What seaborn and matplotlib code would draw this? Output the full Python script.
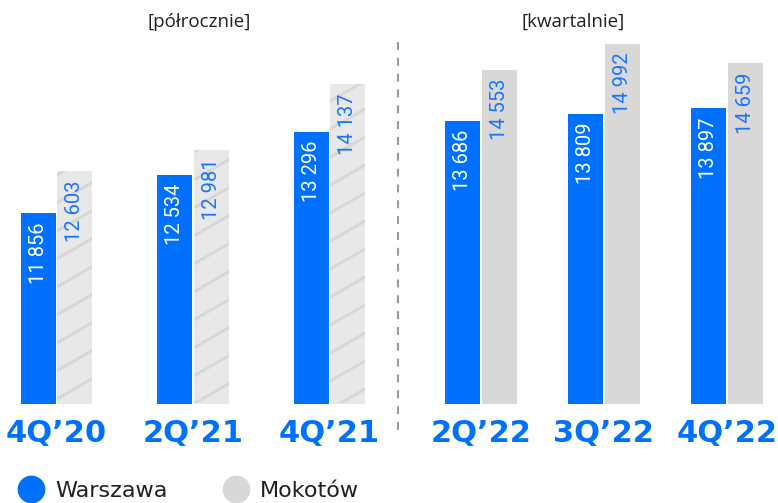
import matplotlib
matplotlib.use("Agg")
import matplotlib.pyplot as plt
from matplotlib.lines import Line2D
from matplotlib.patches import Rectangle
import numpy as np
import pandas as pd
import seaborn as sns

# Average asking prices (PLN / m²)
quarters_half = ["4Q’20", "2Q’21", "4Q’21"]
quarters_qtr = ["2Q’22", "3Q’22", "4Q’22"]
warszawa_half = [11856, 12534, 13296]
mokotow_half = [12603, 12981, 14137]
warszawa_qtr = [13686, 13809, 13897]
mokotow_qtr = [14553, 14992, 14659]
series = ["Warszawa", "Mokotów"]
panel_titles = ["[półrocznie]", "[kwartalnie]"]

BLUE = "#0070FF"
LABEL_BLUE = "#1A74FF"
GREY = "#D9D8D6"
HATCH_BG = "#E8E8E8"
HATCH_LINE = "#D7D7D7"
TEXT = "#231F20"


def frame(quarters, wa, mo):
    return pd.DataFrame({
        "kwartał": quarters * 2,
        "seria": [series[0]] * len(quarters) + [series[1]] * len(quarters),
        "cena": wa + mo,
    })


sns.set_theme(style="white")
plt.rcParams["font.family"] = ["Roboto", "DejaVu Sans"]

W, H = 778, 503
fig = plt.figure(figsize=(W / 100, H / 100), dpi=100)


def px_axes(x0, x1, ytop, ybot):
    return fig.add_axes([x0 / W, 1 - ybot / H, (x1 - x0) / W, (ybot - ytop) / H])


AX_TOP, AX_BOT = 30, 403.5
ax_l = px_axes(0, 398, AX_TOP, AX_BOT)
ax_r = px_axes(398, 778, AX_TOP, AX_BOT)


def draw_panel(ax, df, width, second_color, xlim, ylim):
    sns.barplot(data=df, x="kwartał", y="cena", hue="seria", hue_order=series,
                palette=[BLUE, second_color], width=width, gap=0.04,
                saturation=1, errorbar=None, legend=False, ax=ax,
                linewidth=0, edgecolor="none")
    ax.set_xlim(*xlim)
    ax.set_ylim(*ylim)
    ax.set_xlabel("")
    ax.set_ylabel("")
    ax.set_yticks([])
    for s in ax.spines.values():
        s.set_visible(False)
    ax.tick_params(axis="x", length=0, pad=11)
    for t in ax.get_xticklabels():
        t.set_fontfamily("DejaVu Sans")
        t.set_fontweight("bold")
        t.set_fontsize(22)
        t.set_color(BLUE)
    for cont, color in zip(ax.containers, ["white", LABEL_BLUE]):
        for bar, v in zip(cont, cont.datavalues):
            ax.annotate(f"{v:,.0f}".replace(",", " "),
                        (bar.get_x() + bar.get_width() / 2, v),
                        xytext=(0, -6.5), textcoords="offset points",
                        rotation=90, ha="center", va="top",
                        color=color, fontsize=14.5)


draw_panel(ax_l, frame(quarters_half, warszawa_half, mokotow_half),
           0.535, HATCH_BG, (-0.414, 2.502), (8500, 15094))
draw_panel(ax_r, frame(quarters_qtr, warszawa_qtr, mokotow_qtr),
           0.593, GREY, (-0.673, 2.416), (8899, 15224))

# diagonal stripes on the half-year Mokotów bars (clipped to the visible bar)
axW, axH = 398, AX_BOT - AX_TOP
rise = np.tan(np.radians(30)) * axW / axH
step = 28 / axH
y_floor = ax_l.get_ylim()[0]
for patch in ax_l.containers[1]:
    clip = Rectangle((patch.get_x(), y_floor), patch.get_width(),
                     patch.get_height() - y_floor, transform=ax_l.transData)
    for b in np.arange(-1.5, 1.2, step):
        ln = Line2D([0, 1], [b, b + rise], transform=ax_l.transAxes,
                    color=HATCH_LINE, lw=2.2, solid_capstyle="butt", zorder=1.5)
        ax_l.add_line(ln)
        ln.set_clip_path(clip)

# separator between half-year and quarterly data
fig.add_artist(Line2D([398 / W, 398 / W], [1 - 42 / H, 1 - 436 / H],
                      transform=fig.transFigure, color="#9A9A9A", lw=1.5,
                      linestyle=(0, (3.8, 3.8))))

for x, title in zip([199, 573], panel_titles):
    fig.text(x / W, 1 - 22 / H, title, ha="center", va="center",
             fontfamily="Open Sans", fontsize=13.5, color=TEXT)

handles = [Line2D([], [], marker="o", ls="", markersize=20,
                  markerfacecolor=c, markeredgecolor="none")
           for c in [BLUE, GREY]]
fig.legend(handles, series, loc="center left",
           bbox_to_anchor=(17 / W, 1 - 491 / H), ncol=2, frameon=False,
           prop={"family": "DejaVu Sans", "size": 16}, labelcolor=TEXT,
           handlelength=1.3, handletextpad=0.4, columnspacing=2.45,
           borderpad=0, borderaxespad=0)

fig.savefig("out.png", dpi=100)
